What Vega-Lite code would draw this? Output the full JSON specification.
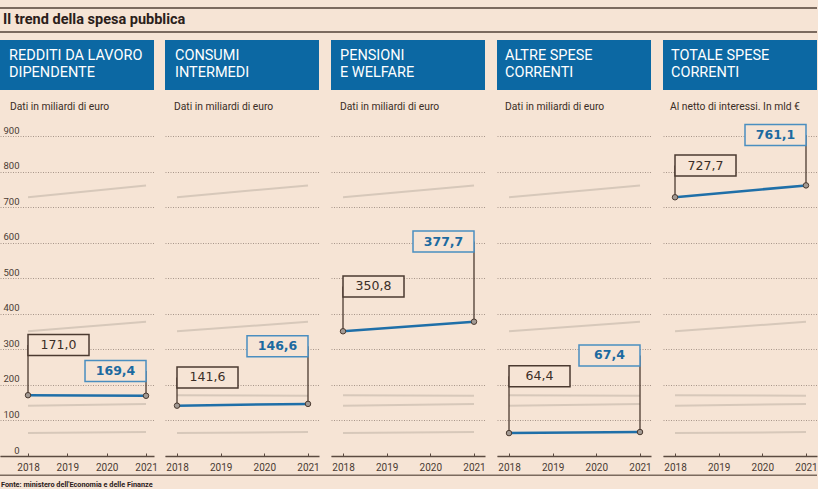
{
  "$schema": "https://vega.github.io/schema/vega-lite/v6.json",
  "background": "#f6e4d5",
  "padding": {"left": 0, "top": 7, "right": 0, "bottom": 0},
  "config": {
    "view": {"stroke": null},
    "locale": {"number": {"decimal": ",", "thousands": ".", "grouping": [3], "currency": ["", " €"]}},
    "font": "Roboto"
  },
  "datasets": {
    "spesa": [
      {"serie": "redditi", "anno": 2018, "valore": 171.0, "label_y": 312},
      {"serie": "redditi", "anno": 2021, "valore": 169.4, "label_y": 239},
      {"serie": "consumi", "anno": 2018, "valore": 141.6, "label_y": 221},
      {"serie": "consumi", "anno": 2021, "valore": 146.6, "label_y": 309},
      {"serie": "pensioni", "anno": 2018, "valore": 350.8, "label_y": 477},
      {"serie": "pensioni", "anno": 2021, "valore": 377.7, "label_y": 603},
      {"serie": "altre", "anno": 2018, "valore": 64.4, "label_y": 224},
      {"serie": "altre", "anno": 2021, "valore": 67.4, "label_y": 283},
      {"serie": "totale", "anno": 2018, "valore": 727.7, "label_y": 817},
      {"serie": "totale", "anno": 2021, "valore": 761.1, "label_y": 903}
    ]
  },
  "spacing": 2.5,
  "vconcat": [
    {
      "spacing": 7,
      "vconcat": [
        {
          "spacing": 0,
          "bounds": "flush",
          "vconcat": [
            {"width": 817, "height": 2, "view": {"fill": "#7b6a5e", "stroke": null}, "data": {"values": []}, "mark": "point", "encoding": {}},
            {"width": 817, "height": 22, "data": {"values": [{"testo": "Il trend della spesa pubblica"}]},
             "mark": {"type": "text", "align": "left", "baseline": "middle", "dx": -405.5, "dy": -0.5, "font": "Roboto", "fontSize": 14.5, "fontWeight": "bold", "color": "#2b201a"},
             "encoding": {"text": {"field": "testo"}}},
            {"width": 817, "height": 2, "view": {"fill": "#7b6a5e", "stroke": null}, "data": {"values": []}, "mark": "point", "encoding": {}}
          ]
        },
        {
          "spacing": 7,
          "hconcat": [
            {
              "spacing": 0,
              "bounds": "flush",
              "vconcat": [
                {"width": 154, "height": 50, "view": {"fill": "#0c68a3", "stroke": null}, "data": {"values": [{"testo": "REDDITI DA LAVORO\nDIPENDENTE"}]},
                 "mark": {"type": "text", "align": "left", "baseline": "middle", "dx": -68, "dy": -9.5, "lineBreak": "\n", "lineHeight": 17, "font": "Roboto", "fontSize": 14.5, "color": "#ffffff"},
                 "encoding": {"text": {"field": "testo"}}},
                {"width": 154, "height": 46, "data": {"values": [{"testo": "Dati in miliardi di euro"}]},
                 "mark": {"type": "text", "align": "left", "baseline": "alphabetic", "dx": -67, "dy": -3, "font": "Roboto", "fontSize": 10.3, "color": "#3a2d26"},
                 "encoding": {"text": {"field": "testo"}}},
                {
                  "width": 154, "height": 320,
                  "data": {"name": "spesa"},
                  "encoding": {
                    "x": {"field": "anno", "type": "quantitative", "scale": {"domain": [2017.288, 2021.203], "nice": false, "zero": false},
                          "axis": {"values": [2018, 2019, 2020, 2021], "format": "d", "title": null, "grid": false, "domainColor": "#5c4b41", "domainWidth": 1.5, "tickColor": "#5c4b41", "tickSize": -3, "tickWidth": 1, "labelFontSize": 10, "labelColor": "#4a3b33", "labelFont": "Roboto", "labelPadding": 9, "labelFlush": false, "labelOverlap": false}},
                    "y": {"field": "valore", "type": "quantitative", "scale": {"domain": [0, 900], "nice": false},
                          "axis": {"values": [0, 100, 200, 300, 400, 500, 600, 700, 800, 900], "title": null, "domain": false, "ticks": false, "grid": true, "gridColor": "#a8968a", "gridDash": [1, 1.5], "gridWidth": 1, "labelAlign": "right", "labelPadding": -19, "labelBaseline": "alphabetic", "labelOffset": -3, "labelFontSize": 9.5, "labelColor": "#4a3b33", "labelFont": "Roboto"}}
                  },
                  "layer": [
                    {"transform": [{"filter": "datum.serie != 'redditi'"}], "mark": {"type": "line", "color": "#d7c8ba", "strokeWidth": 2}, "encoding": {"detail": {"field": "serie"}}},
                    {"transform": [{"filter": "datum.serie == 'redditi'"}], "mark": {"type": "rule", "color": "#4b3a30", "strokeWidth": 1.3}, "encoding": {"y2": {"field": "label_y"}}},
                    {"transform": [{"filter": "datum.serie == 'redditi'"}], "mark": {"type": "line", "color": "#1f6fa8", "strokeWidth": 2.5}},
                    {"transform": [{"filter": "datum.serie == 'redditi' && datum.anno == 2018"}], "mark": {"type": "point", "shape": "M0,-10.5H61V10.5H0Z", "size": 4, "filled": true, "fill": "#f6e4d5", "stroke": "#4b3a30", "strokeWidth": 1.5, "opacity": 1}, "encoding": {"y": {"field": "label_y", "type": "quantitative"}}},
                    {"transform": [{"filter": "datum.serie == 'redditi' && datum.anno == 2021"}], "mark": {"type": "point", "shape": "M-61,-10.5H0V10.5H-61Z", "size": 4, "filled": true, "fill": "#f6e4d5", "stroke": "#4a8ec0", "strokeWidth": 1.5, "opacity": 1}, "encoding": {"y": {"field": "label_y", "type": "quantitative"}}},
                    {"transform": [{"filter": "datum.serie == 'redditi' && datum.anno == 2018"}], "mark": {"type": "text", "dx": 30.5, "align": "center", "baseline": "middle", "font": "DejaVu Sans", "fontSize": 12.5, "color": "#3b2e27"}, "encoding": {"y": {"field": "label_y", "type": "quantitative"}, "text": {"field": "valore", "type": "quantitative", "format": ".1f"}}},
                    {"transform": [{"filter": "datum.serie == 'redditi' && datum.anno == 2021"}], "mark": {"type": "text", "dx": -30.5, "align": "center", "baseline": "middle", "font": "DejaVu Sans", "fontSize": 12.5, "fontWeight": "bold", "color": "#1c6aa0"}, "encoding": {"y": {"field": "label_y", "type": "quantitative"}, "text": {"field": "valore", "type": "quantitative", "format": ".1f"}}},
                    {"transform": [{"filter": "datum.serie == 'redditi'"}], "mark": {"type": "point", "filled": true, "fill": "#a29a94", "stroke": "#4b3a30", "strokeWidth": 1, "size": 30, "opacity": 1}}
                  ]
                }
              ]
            },
            {
              "spacing": 11,
              "hconcat": [
                {
                  "spacing": 0,
                  "bounds": "flush",
                  "vconcat": [
                    {"width": 154, "height": 50, "view": {"fill": "#0c68a3", "stroke": null}, "data": {"values": [{"testo": "CONSUMI\nINTERMEDI"}]},
                     "mark": {"type": "text", "align": "left", "baseline": "middle", "dx": -67, "dy": -9.5, "lineBreak": "\n", "lineHeight": 17, "font": "Roboto", "fontSize": 14.5, "color": "#ffffff"},
                     "encoding": {"text": {"field": "testo"}}},
                    {"width": 154, "height": 46, "data": {"values": [{"testo": "Dati in miliardi di euro"}]},
                     "mark": {"type": "text", "align": "left", "baseline": "alphabetic", "dx": -68, "dy": -3, "font": "Roboto", "fontSize": 10.3, "color": "#3a2d26"},
                     "encoding": {"text": {"field": "testo"}}},
                    {
                      "width": 154, "height": 320,
                      "data": {"name": "spesa"},
                      "encoding": {
                        "x": {"field": "anno", "type": "quantitative", "scale": {"domain": [2017.725, 2021.252], "nice": false, "zero": false},
                              "axis": {"values": [2018, 2019, 2020, 2021], "format": "d", "title": null, "grid": false, "domainColor": "#5c4b41", "domainWidth": 1.5, "tickColor": "#5c4b41", "tickSize": -3, "tickWidth": 1, "labelFontSize": 10, "labelColor": "#4a3b33", "labelFont": "Roboto", "labelPadding": 9, "labelFlush": false, "labelOverlap": false}},
                        "y": {"field": "valore", "type": "quantitative", "scale": {"domain": [0, 900], "nice": false},
                              "axis": {"values": [0, 100, 200, 300, 400, 500, 600, 700, 800, 900], "title": null, "domain": false, "ticks": false, "labels": false, "grid": true, "gridColor": "#a8968a", "gridDash": [1, 1.5], "gridWidth": 1}}
                      },
                      "layer": [
                        {"transform": [{"filter": "datum.serie != 'consumi'"}], "mark": {"type": "line", "color": "#d7c8ba", "strokeWidth": 2}, "encoding": {"detail": {"field": "serie"}}},
                        {"transform": [{"filter": "datum.serie == 'consumi'"}], "mark": {"type": "rule", "color": "#4b3a30", "strokeWidth": 1.3}, "encoding": {"y2": {"field": "label_y"}}},
                        {"transform": [{"filter": "datum.serie == 'consumi'"}], "mark": {"type": "line", "color": "#1f6fa8", "strokeWidth": 2.5}},
                        {"transform": [{"filter": "datum.serie == 'consumi' && datum.anno == 2018"}], "mark": {"type": "point", "shape": "M0,-10.5H61V10.5H0Z", "size": 4, "filled": true, "fill": "#f6e4d5", "stroke": "#4b3a30", "strokeWidth": 1.5, "opacity": 1}, "encoding": {"y": {"field": "label_y", "type": "quantitative"}}},
                        {"transform": [{"filter": "datum.serie == 'consumi' && datum.anno == 2021"}], "mark": {"type": "point", "shape": "M-61,-10.5H0V10.5H-61Z", "size": 4, "filled": true, "fill": "#f6e4d5", "stroke": "#4a8ec0", "strokeWidth": 1.5, "opacity": 1}, "encoding": {"y": {"field": "label_y", "type": "quantitative"}}},
                        {"transform": [{"filter": "datum.serie == 'consumi' && datum.anno == 2018"}], "mark": {"type": "text", "dx": 30.5, "align": "center", "baseline": "middle", "font": "DejaVu Sans", "fontSize": 12.5, "color": "#3b2e27"}, "encoding": {"y": {"field": "label_y", "type": "quantitative"}, "text": {"field": "valore", "type": "quantitative", "format": ".1f"}}},
                        {"transform": [{"filter": "datum.serie == 'consumi' && datum.anno == 2021"}], "mark": {"type": "text", "dx": -30.5, "align": "center", "baseline": "middle", "font": "DejaVu Sans", "fontSize": 12.5, "fontWeight": "bold", "color": "#1c6aa0"}, "encoding": {"y": {"field": "label_y", "type": "quantitative"}, "text": {"field": "valore", "type": "quantitative", "format": ".1f"}}},
                        {"transform": [{"filter": "datum.serie == 'consumi'"}], "mark": {"type": "point", "filled": true, "fill": "#a29a94", "stroke": "#4b3a30", "strokeWidth": 1, "size": 30, "opacity": 1}}
                      ]
                    }
                  ]
                },
                {
                  "spacing": 0,
                  "bounds": "flush",
                  "vconcat": [
                    {"width": 154, "height": 50, "view": {"fill": "#0c68a3", "stroke": null}, "data": {"values": [{"testo": "PENSIONI\nE WELFARE"}]},
                     "mark": {"type": "text", "align": "left", "baseline": "middle", "dx": -68, "dy": -9.5, "lineBreak": "\n", "lineHeight": 17, "font": "Roboto", "fontSize": 14.5, "color": "#ffffff"},
                     "encoding": {"text": {"field": "testo"}}},
                    {"width": 154, "height": 46, "data": {"values": [{"testo": "Dati in miliardi di euro"}]},
                     "mark": {"type": "text", "align": "left", "baseline": "alphabetic", "dx": -68, "dy": -3, "font": "Roboto", "fontSize": 10.3, "color": "#3a2d26"},
                     "encoding": {"text": {"field": "testo"}}},
                    {
                      "width": 154, "height": 320,
                      "data": {"name": "spesa"},
                      "encoding": {
                        "x": {"field": "anno", "type": "quantitative", "scale": {"domain": [2017.725, 2021.252], "nice": false, "zero": false},
                              "axis": {"values": [2018, 2019, 2020, 2021], "format": "d", "title": null, "grid": false, "domainColor": "#5c4b41", "domainWidth": 1.5, "tickColor": "#5c4b41", "tickSize": -3, "tickWidth": 1, "labelFontSize": 10, "labelColor": "#4a3b33", "labelFont": "Roboto", "labelPadding": 9, "labelFlush": false, "labelOverlap": false}},
                        "y": {"field": "valore", "type": "quantitative", "scale": {"domain": [0, 900], "nice": false},
                              "axis": {"values": [0, 100, 200, 300, 400, 500, 600, 700, 800, 900], "title": null, "domain": false, "ticks": false, "labels": false, "grid": true, "gridColor": "#a8968a", "gridDash": [1, 1.5], "gridWidth": 1}}
                      },
                      "layer": [
                        {"transform": [{"filter": "datum.serie != 'pensioni'"}], "mark": {"type": "line", "color": "#d7c8ba", "strokeWidth": 2}, "encoding": {"detail": {"field": "serie"}}},
                        {"transform": [{"filter": "datum.serie == 'pensioni'"}], "mark": {"type": "rule", "color": "#4b3a30", "strokeWidth": 1.3}, "encoding": {"y2": {"field": "label_y"}}},
                        {"transform": [{"filter": "datum.serie == 'pensioni'"}], "mark": {"type": "line", "color": "#1f6fa8", "strokeWidth": 2.5}},
                        {"transform": [{"filter": "datum.serie == 'pensioni' && datum.anno == 2018"}], "mark": {"type": "point", "shape": "M0,-10.5H61V10.5H0Z", "size": 4, "filled": true, "fill": "#f6e4d5", "stroke": "#4b3a30", "strokeWidth": 1.5, "opacity": 1}, "encoding": {"y": {"field": "label_y", "type": "quantitative"}}},
                        {"transform": [{"filter": "datum.serie == 'pensioni' && datum.anno == 2021"}], "mark": {"type": "point", "shape": "M-61,-10.5H0V10.5H-61Z", "size": 4, "filled": true, "fill": "#f6e4d5", "stroke": "#4a8ec0", "strokeWidth": 1.5, "opacity": 1}, "encoding": {"y": {"field": "label_y", "type": "quantitative"}}},
                        {"transform": [{"filter": "datum.serie == 'pensioni' && datum.anno == 2018"}], "mark": {"type": "text", "dx": 30.5, "align": "center", "baseline": "middle", "font": "DejaVu Sans", "fontSize": 12.5, "color": "#3b2e27"}, "encoding": {"y": {"field": "label_y", "type": "quantitative"}, "text": {"field": "valore", "type": "quantitative", "format": ".1f"}}},
                        {"transform": [{"filter": "datum.serie == 'pensioni' && datum.anno == 2021"}], "mark": {"type": "text", "dx": -30.5, "align": "center", "baseline": "middle", "font": "DejaVu Sans", "fontSize": 12.5, "fontWeight": "bold", "color": "#1c6aa0"}, "encoding": {"y": {"field": "label_y", "type": "quantitative"}, "text": {"field": "valore", "type": "quantitative", "format": ".1f"}}},
                        {"transform": [{"filter": "datum.serie == 'pensioni'"}], "mark": {"type": "point", "filled": true, "fill": "#a29a94", "stroke": "#4b3a30", "strokeWidth": 1, "size": 30, "opacity": 1}}
                      ]
                    }
                  ]
                },
                {
                  "spacing": 0,
                  "bounds": "flush",
                  "vconcat": [
                    {"width": 154, "height": 50, "view": {"fill": "#0c68a3", "stroke": null}, "data": {"values": [{"testo": "ALTRE SPESE\nCORRENTI"}]},
                     "mark": {"type": "text", "align": "left", "baseline": "middle", "dx": -69, "dy": -9.5, "lineBreak": "\n", "lineHeight": 17, "font": "Roboto", "fontSize": 14.5, "color": "#ffffff"},
                     "encoding": {"text": {"field": "testo"}}},
                    {"width": 154, "height": 46, "data": {"values": [{"testo": "Dati in miliardi di euro"}]},
                     "mark": {"type": "text", "align": "left", "baseline": "alphabetic", "dx": -69, "dy": -3, "font": "Roboto", "fontSize": 10.3, "color": "#3a2d26"},
                     "encoding": {"text": {"field": "testo"}}},
                    {
                      "width": 154, "height": 320,
                      "data": {"name": "spesa"},
                      "encoding": {
                        "x": {"field": "anno", "type": "quantitative", "scale": {"domain": [2017.725, 2021.252], "nice": false, "zero": false},
                              "axis": {"values": [2018, 2019, 2020, 2021], "format": "d", "title": null, "grid": false, "domainColor": "#5c4b41", "domainWidth": 1.5, "tickColor": "#5c4b41", "tickSize": -3, "tickWidth": 1, "labelFontSize": 10, "labelColor": "#4a3b33", "labelFont": "Roboto", "labelPadding": 9, "labelFlush": false, "labelOverlap": false}},
                        "y": {"field": "valore", "type": "quantitative", "scale": {"domain": [0, 900], "nice": false},
                              "axis": {"values": [0, 100, 200, 300, 400, 500, 600, 700, 800, 900], "title": null, "domain": false, "ticks": false, "labels": false, "grid": true, "gridColor": "#a8968a", "gridDash": [1, 1.5], "gridWidth": 1}}
                      },
                      "layer": [
                        {"transform": [{"filter": "datum.serie != 'altre'"}], "mark": {"type": "line", "color": "#d7c8ba", "strokeWidth": 2}, "encoding": {"detail": {"field": "serie"}}},
                        {"transform": [{"filter": "datum.serie == 'altre'"}], "mark": {"type": "rule", "color": "#4b3a30", "strokeWidth": 1.3}, "encoding": {"y2": {"field": "label_y"}}},
                        {"transform": [{"filter": "datum.serie == 'altre'"}], "mark": {"type": "line", "color": "#1f6fa8", "strokeWidth": 2.5}},
                        {"transform": [{"filter": "datum.serie == 'altre' && datum.anno == 2018"}], "mark": {"type": "point", "shape": "M0,-10.5H61V10.5H0Z", "size": 4, "filled": true, "fill": "#f6e4d5", "stroke": "#4b3a30", "strokeWidth": 1.5, "opacity": 1}, "encoding": {"y": {"field": "label_y", "type": "quantitative"}}},
                        {"transform": [{"filter": "datum.serie == 'altre' && datum.anno == 2021"}], "mark": {"type": "point", "shape": "M-61,-10.5H0V10.5H-61Z", "size": 4, "filled": true, "fill": "#f6e4d5", "stroke": "#4a8ec0", "strokeWidth": 1.5, "opacity": 1}, "encoding": {"y": {"field": "label_y", "type": "quantitative"}}},
                        {"transform": [{"filter": "datum.serie == 'altre' && datum.anno == 2018"}], "mark": {"type": "text", "dx": 30.5, "align": "center", "baseline": "middle", "font": "DejaVu Sans", "fontSize": 12.5, "color": "#3b2e27"}, "encoding": {"y": {"field": "label_y", "type": "quantitative"}, "text": {"field": "valore", "type": "quantitative", "format": ".1f"}}},
                        {"transform": [{"filter": "datum.serie == 'altre' && datum.anno == 2021"}], "mark": {"type": "text", "dx": -30.5, "align": "center", "baseline": "middle", "font": "DejaVu Sans", "fontSize": 12.5, "fontWeight": "bold", "color": "#1c6aa0"}, "encoding": {"y": {"field": "label_y", "type": "quantitative"}, "text": {"field": "valore", "type": "quantitative", "format": ".1f"}}},
                        {"transform": [{"filter": "datum.serie == 'altre'"}], "mark": {"type": "point", "filled": true, "fill": "#a29a94", "stroke": "#4b3a30", "strokeWidth": 1, "size": 30, "opacity": 1}}
                      ]
                    }
                  ]
                },
                {
                  "spacing": 0,
                  "bounds": "flush",
                  "vconcat": [
                    {"width": 154, "height": 50, "view": {"fill": "#0c68a3", "stroke": null}, "data": {"values": [{"testo": "TOTALE SPESE\nCORRENTI"}]},
                     "mark": {"type": "text", "align": "left", "baseline": "middle", "dx": -69, "dy": -9.5, "lineBreak": "\n", "lineHeight": 17, "font": "Roboto", "fontSize": 14.5, "color": "#ffffff"},
                     "encoding": {"text": {"field": "testo"}}},
                    {"width": 154, "height": 46, "data": {"values": [{"testo": "Al netto di interessi. In mld €"}]},
                     "mark": {"type": "text", "align": "left", "baseline": "alphabetic", "dx": -70, "dy": -3, "font": "Roboto", "fontSize": 10.3, "color": "#3a2d26"},
                     "encoding": {"text": {"field": "testo"}}},
                    {
                      "width": 154, "height": 320,
                      "data": {"name": "spesa"},
                      "encoding": {
                        "x": {"field": "anno", "type": "quantitative", "scale": {"domain": [2017.725, 2021.252], "nice": false, "zero": false},
                              "axis": {"values": [2018, 2019, 2020, 2021], "format": "d", "title": null, "grid": false, "domainColor": "#5c4b41", "domainWidth": 1.5, "tickColor": "#5c4b41", "tickSize": -3, "tickWidth": 1, "labelFontSize": 10, "labelColor": "#4a3b33", "labelFont": "Roboto", "labelPadding": 9, "labelFlush": false, "labelOverlap": false}},
                        "y": {"field": "valore", "type": "quantitative", "scale": {"domain": [0, 900], "nice": false},
                              "axis": {"values": [0, 100, 200, 300, 400, 500, 600, 700, 800, 900], "title": null, "domain": false, "ticks": false, "labels": false, "grid": true, "gridColor": "#a8968a", "gridDash": [1, 1.5], "gridWidth": 1}}
                      },
                      "layer": [
                        {"transform": [{"filter": "datum.serie != 'totale'"}], "mark": {"type": "line", "color": "#d7c8ba", "strokeWidth": 2}, "encoding": {"detail": {"field": "serie"}}},
                        {"transform": [{"filter": "datum.serie == 'totale'"}], "mark": {"type": "rule", "color": "#4b3a30", "strokeWidth": 1.3}, "encoding": {"y2": {"field": "label_y"}}},
                        {"transform": [{"filter": "datum.serie == 'totale'"}], "mark": {"type": "line", "color": "#1f6fa8", "strokeWidth": 2.5}},
                        {"transform": [{"filter": "datum.serie == 'totale' && datum.anno == 2018"}], "mark": {"type": "point", "shape": "M0,-10.5H61V10.5H0Z", "size": 4, "filled": true, "fill": "#f6e4d5", "stroke": "#4b3a30", "strokeWidth": 1.5, "opacity": 1}, "encoding": {"y": {"field": "label_y", "type": "quantitative"}}},
                        {"transform": [{"filter": "datum.serie == 'totale' && datum.anno == 2021"}], "mark": {"type": "point", "shape": "M-61,-10.5H0V10.5H-61Z", "size": 4, "filled": true, "fill": "#f6e4d5", "stroke": "#4a8ec0", "strokeWidth": 1.5, "opacity": 1}, "encoding": {"y": {"field": "label_y", "type": "quantitative"}}},
                        {"transform": [{"filter": "datum.serie == 'totale' && datum.anno == 2018"}], "mark": {"type": "text", "dx": 30.5, "align": "center", "baseline": "middle", "font": "DejaVu Sans", "fontSize": 12.5, "color": "#3b2e27"}, "encoding": {"y": {"field": "label_y", "type": "quantitative"}, "text": {"field": "valore", "type": "quantitative", "format": ".1f"}}},
                        {"transform": [{"filter": "datum.serie == 'totale' && datum.anno == 2021"}], "mark": {"type": "text", "dx": -30.5, "align": "center", "baseline": "middle", "font": "DejaVu Sans", "fontSize": 12.5, "fontWeight": "bold", "color": "#1c6aa0"}, "encoding": {"y": {"field": "label_y", "type": "quantitative"}, "text": {"field": "valore", "type": "quantitative", "format": ".1f"}}},
                        {"transform": [{"filter": "datum.serie == 'totale'"}], "mark": {"type": "point", "filled": true, "fill": "#a29a94", "stroke": "#4b3a30", "strokeWidth": 1, "size": 30, "opacity": 1}}
                      ]
                    }
                  ]
                }
              ]
            }
          ]
        }
      ]
    },
    {
      "spacing": 0,
      "bounds": "flush",
      "vconcat": [
        {"width": 817, "height": 1.5, "view": {"fill": "#7b6a5e", "stroke": null}, "data": {"values": []}, "mark": "point", "encoding": {}},
        {"width": 817, "height": 12, "data": {"values": [{"testo": "Fonte: ministero dell'Economia e delle Finanze"}]},
         "mark": {"type": "text", "align": "left", "baseline": "middle", "dx": -407.5, "dy": 2.5, "font": "Roboto", "fontSize": 7.3, "fontWeight": "bold", "color": "#2b201a"},
         "encoding": {"text": {"field": "testo"}}}
      ]
    }
  ]
}
